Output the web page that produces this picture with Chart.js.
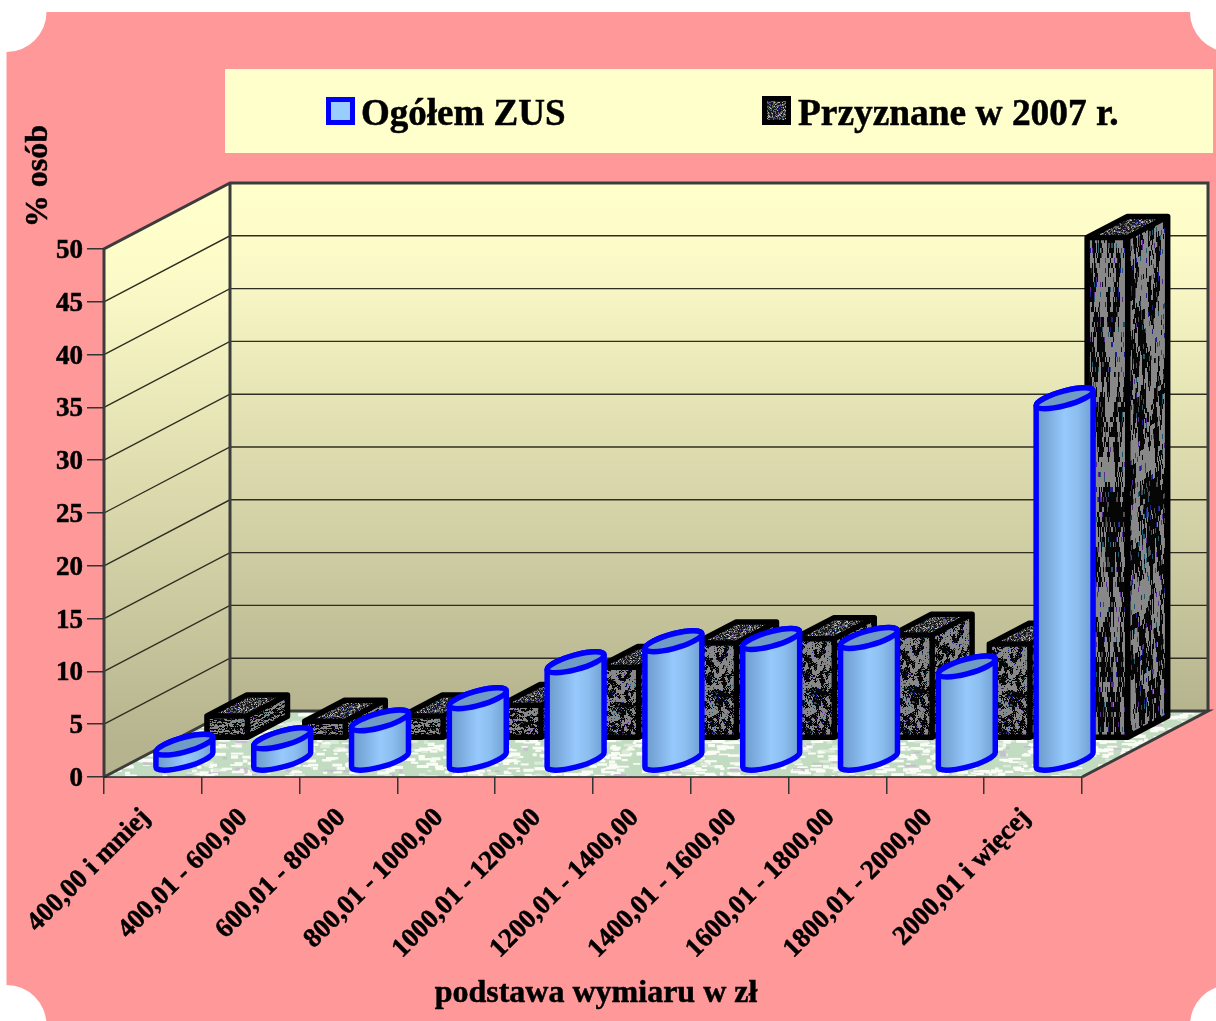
<!DOCTYPE html>
<html lang="pl">
<head>
<meta charset="utf-8">
<style>html,body{margin:0;padding:0;background:#fff}canvas{display:block}</style>
<script src="https://cdn.jsdelivr.net/npm/chart.js@4/dist/chart.umd.js"></script>
</head>
<body>
<canvas id="c" width="1216" height="1021" style="width:1216px;height:1021px"></canvas>
<script>
const categories = ['400,00 i mniej','400,01 - 600,00','600,01 - 800,00','800,01 - 1000,00','1000,01 - 1200,00','1200,01 - 1400,00','1400,01 - 1600,00','1600,01 - 1800,00','1800,01 - 2000,00','2000,01 i więcej'];
const ogolemZus = [1.5, 2.1, 3.8, 5.9, 9.3, 11.3, 11.5, 11.6, 8.9, 34.3];
const przyznane2007 = [2.1, 1.6, 2.1, 3.1, 6.7, 9.0, 9.4, 9.75, 8.9, 47.4];
const seriesNames = ['Ogółem ZUS', 'Przyznane w 2007 r.'];
const yTitleText = '% osób';
const xTitleText = 'podstawa wymiaru w zł';

const FONT = '"Liberation Serif", "Times New Roman", serif';
const DEPTH = {x: 126, y: -66};
const BAR_T = 0.59, CYL_T = 0.25, BAR_D = 0.317;

function hash(x, y) { const s = Math.sin(x * 12.9898 + y * 78.233) * 43758.5453; return s - Math.floor(s); }
function smooth(x, y, cell) {
  const fx = x / cell, fy = y / cell, ix = Math.floor(fx), iy = Math.floor(fy), tx = fx - ix, ty = fy - iy;
  const a = hash(ix, iy), b = hash(ix + 1, iy), c = hash(ix, iy + 1), d = hash(ix + 1, iy + 1);
  return (a * (1 - tx) + b * tx) * (1 - ty) + (c * (1 - tx) + d * tx) * ty;
}
function makeTexture(w, h, fine) {
  const cv = document.createElement('canvas'); cv.width = w; cv.height = h;
  const g = cv.getContext('2d'), img = g.createImageData(w, h);
  for (let y = 0; y < h; y++) for (let x = 0; x < w; x++) {
    const n = hash(x + 3.1, y + 7.7), m = smooth(x, y * 0.7, 3);
    let v = fine ? (n < .5 ? 25 : n < .9 ? 105 : 190) : (m * .8 + n * .3 > .53 ? 136 : (n > .9 ? 80 : 6));
    let r = v, gg = v, b = v;
    const k = hash(x * 1.7 + 11, y * 2.3 + 5);
    if (k > .975) { r = 90; gg = 40; b = 150; } else if (k > .95) { r = 30; gg = 90; b = 110; } else if (k > .93) { r = 30; gg = 30; b = 140; }
    const i = (y * w + x) * 4; img.data[i] = r; img.data[i + 1] = gg; img.data[i + 2] = b; img.data[i + 3] = 255;
  }
  g.putImageData(img, 0, 0); return cv;
}
const boxTex = makeTexture(40, 100, false), topTex = makeTexture(70, 30, true);

function makeFloor() {
  const cv = document.createElement('canvas'); cv.width = 1216; cv.height = 90;
  const g = cv.getContext('2d'); g.fillStyle = '#c1dcc1'; g.fillRect(0, 0, 1216, 90);
  for (let i = 0; i < 3000; i++) {
    const x = hash(i, 1.3) * 1216, y = hash(i, 2.7) * 90, w = 3 + hash(i, 3.9) * 10, h = 1.5 + hash(i, 5.1) * 2, k = hash(i, 6.3);
    g.fillStyle = k > .92 ? '#c4c0cc' : k > .15 ? '#fbfcf6' : '#dcebd8';
    g.fillRect(x, y, w, h);
  }
  return cv;
}
const floorTex = makeFloor();

function face(ctx, tex, px, py, ax, ay, bx, by) {
  ctx.save(); ctx.imageSmoothingEnabled = false;
  ctx.beginPath(); ctx.moveTo(px, py); ctx.lineTo(px + ax, py + ay); ctx.lineTo(px + ax + bx, py + ay + by); ctx.lineTo(px + bx, py + by); ctx.closePath(); ctx.clip();
  ctx.transform(ax / tex.width, ay / tex.width, bx / tex.height, by / tex.height, px, py);
  ctx.drawImage(tex, 0, 0); ctx.restore();
}

class Box3D extends Chart.BarController {
  draw() {
    const ctx = this.chart.ctx, elements = this.getMeta().data;
    const ox = DEPTH.x * BAR_T, oy = DEPTH.y * BAR_T, dx = DEPTH.x * BAR_D, dy = DEPTH.y * BAR_D;
    elements.forEach(el => {
      const w = el.width, L = el.x - w / 2 + ox, R = L + w, B = el.base + oy, T = el.y + oy;
      face(ctx, boxTex, L, T, w, 0, 0, B - T);
      face(ctx, boxTex, R, T, dx, dy, 0, B - T);
      face(ctx, topTex, L, T, w, 0, dx, dy);
      ctx.save(); ctx.strokeStyle = '#000'; ctx.lineWidth = 5.5; ctx.lineJoin = 'round';
      ctx.beginPath();
      ctx.rect(L, T, w, B - T);
      ctx.moveTo(L, T); ctx.lineTo(L + dx, T + dy); ctx.lineTo(R + dx, T + dy); ctx.lineTo(R, T);
      ctx.moveTo(R + dx, T + dy); ctx.lineTo(R + dx, B + dy); ctx.lineTo(R, B);
      ctx.stroke(); ctx.restore();
    });
  }
}
Box3D.id = 'box3d'; Box3D.defaults = Chart.BarController.defaults;

class Cylinder3D extends Chart.BarController {
  draw() {
    const ctx = this.chart.ctx, elements = this.getMeta().data;
    const ox = DEPTH.x * CYL_T, oy = DEPTH.y * CYL_T, vx = DEPTH.x * BAR_D / 2, vy = DEPTH.y * BAR_D / 2;
    elements.forEach(el => {
      const ux = el.width / 2, cx = el.x + ox, by = el.base + oy, ty = el.y + oy;
      const a0 = Math.atan2(vx, ux), a1 = a0 + Math.PI;
      const ex = ux * Math.cos(a0) + vx * Math.sin(a0), ey = vy * Math.sin(a0);
      const arcAt = (yc, from, to) => { ctx.save(); ctx.transform(ux, 0, vx, vy, cx, yc); ctx.arc(0, 0, 1, from, to, false); ctx.restore(); };
      const body = () => {
        ctx.beginPath(); ctx.moveTo(cx - ex, ty - ey); ctx.lineTo(cx - ex, by - ey);
        arcAt(by, a1, a0 + 2 * Math.PI); ctx.lineTo(cx + ex, ty + ey);
        arcAt(ty, a0, a1); ctx.closePath();
      };
      const g = ctx.createLinearGradient(cx - ex, 0, cx + ex, 0);
      g.addColorStop(0, '#6a98ca'); g.addColorStop(.5, '#97c9fc'); g.addColorStop(.72, '#8dbef0'); g.addColorStop(1, '#6f9fd2');
      ctx.save(); ctx.lineJoin = 'round'; ctx.lineWidth = 5.5; ctx.strokeStyle = '#0000ff';
      body(); ctx.fillStyle = g; ctx.fill(); ctx.stroke();
      ctx.beginPath(); arcAt(ty, 0, 2 * Math.PI); ctx.closePath(); ctx.fillStyle = '#6f9bc4'; ctx.fill(); ctx.stroke();
      ctx.restore();
    });
  }
}
Cylinder3D.id = 'cylinder3d'; Cylinder3D.defaults = Chart.BarController.defaults;
Chart.register(Box3D, Cylinder3D);

const panelPlugin = {
  id: 'panel',
  beforeDraw(chart) {
    const ctx = chart.ctx, yS = chart.scales.y, xS = chart.scales.x;
    const x0 = xS.left, x1 = xS.right, y0 = yS.bottom, yTop = yS.top, W = chart.width, H = chart.height;
    ctx.save();
    ctx.fillStyle = '#fff'; ctx.fillRect(0, 0, W, H);
    ctx.fillStyle = '#ff9999';
    ctx.beginPath();
    ctx.moveTo(46.5, 12); ctx.lineTo(1190, 12);
    ctx.arc(1230, 12, 40, Math.PI, Math.PI * 0.5, true);
    ctx.lineTo(W, 989);
    ctx.arc(1230, 1025, 40, Math.PI * 1.5, Math.PI, true);
    ctx.lineTo(46, H);
    ctx.arc(6.5, 1025, 40, Math.PI * 2, Math.PI * 1.5, true);
    ctx.lineTo(6.5, 52);
    ctx.arc(6.5, 12, 40, Math.PI * 0.5, 0, true);
    ctx.closePath(); ctx.fill();
    ctx.fillStyle = '#ffffcc'; ctx.fillRect(225, 69, 988, 84);

    const dx = DEPTH.x, dy = DEPTH.y;
    let g = ctx.createLinearGradient(0, yTop + dy, 0, y0 + dy);
    g.addColorStop(0, '#ffffcc'); g.addColorStop(.12, '#fdfcc9'); g.addColorStop(1, '#b6b48e');
    ctx.fillStyle = g; ctx.fillRect(x0 + dx, yTop + dy, x1 - x0, y0 - yTop);
    g = ctx.createLinearGradient(0, yTop + dy / 2, 0, y0 + dy / 2);
    g.addColorStop(0, '#ffffcc'); g.addColorStop(.1, '#fdfcc9'); g.addColorStop(1, '#b6b48e');
    ctx.fillStyle = g; ctx.beginPath();
    ctx.moveTo(x0, yTop); ctx.lineTo(x0 + dx, yTop + dy); ctx.lineTo(x0 + dx, y0 + dy); ctx.lineTo(x0, y0); ctx.closePath(); ctx.fill();
    ctx.save(); ctx.beginPath();
    ctx.moveTo(x0, y0); ctx.lineTo(x0 + dx, y0 + dy); ctx.lineTo(x1 + dx, y0 + dy); ctx.lineTo(x1, y0); ctx.closePath(); ctx.clip();
    ctx.drawImage(floorTex, 0, y0 + dy - 5); ctx.restore();
    ctx.strokeStyle = '#2e2e22'; ctx.lineWidth = 1.4;
    yS.ticks.forEach((t, i) => {
      if (t.value === 0 || t.value === 50) return;
      const p = yS.getPixelForTick(i);
      ctx.beginPath(); ctx.moveTo(x0, p); ctx.lineTo(x0 + dx, p + dy); ctx.lineTo(x1 + dx, p + dy); ctx.stroke();
    });
    ctx.strokeStyle = '#3c3c3c'; ctx.lineWidth = 3; ctx.lineJoin = 'miter';
    ctx.beginPath();
    ctx.moveTo(x0, y0); ctx.lineTo(x0, yTop); ctx.lineTo(x0 + dx, yTop + dy); ctx.lineTo(x1 + dx, yTop + dy); ctx.lineTo(x1 + dx, y0 + dy);
    ctx.moveTo(x0 + dx, yTop + dy); ctx.lineTo(x0 + dx, y0 + dy);
    ctx.moveTo(x0, y0); ctx.lineTo(x0 + dx, y0 + dy); ctx.lineTo(x1 + dx, y0 + dy); ctx.lineTo(x1, y0);
    ctx.stroke();
    ctx.strokeStyle = '#222'; ctx.lineWidth = 1.6; ctx.beginPath(); ctx.moveTo(x0 - 1, y0); ctx.lineTo(x1, y0); ctx.stroke();
    ctx.restore();
  },
  afterDraw(chart) {
    const ctx = chart.ctx;
    ctx.save();
    ctx.fillStyle = '#0000ff'; ctx.fillRect(326, 97, 29, 28);
    ctx.fillStyle = '#99ccff'; ctx.fillRect(331, 102, 19, 18);
    ctx.fillStyle = '#000'; ctx.fillRect(762, 96, 29, 29);
    face(ctx, topTex, 767, 101, 19, 0, 0, 19);
    ctx.fillStyle = '#000'; ctx.strokeStyle = '#000'; ctx.lineWidth = 0.5;
    ctx.font = 'bold 37px ' + FONT; ctx.textBaseline = 'alphabetic'; ctx.textAlign = 'left';
    ctx.fillText(seriesNames[0], 361, 125); ctx.strokeText(seriesNames[0], 361, 125);
    ctx.font = 'bold 37.4px ' + FONT;
    ctx.fillText(seriesNames[1], 798, 125); ctx.strokeText(seriesNames[1], 798, 125);
    ctx.font = 'bold 32px ' + FONT; ctx.textAlign = 'center';
    ctx.fillText(xTitleText, 596, 1002); ctx.strokeText(xTitleText, 596, 1002);
    ctx.translate(47, 176); ctx.rotate(-Math.PI / 2);
    ctx.fillText(yTitleText, 0, 0); ctx.strokeText(yTitleText, 0, 0);
    ctx.restore();
  }
};

new Chart(document.getElementById('c'), {
  data: {
    labels: categories,
    datasets: [
      {type: 'cylinder3d', label: seriesNames[0], data: ogolemZus, clip: false, grouped: false, categoryPercentage: 1, barPercentage: 0.415, backgroundColor: '#99ccff', borderColor: '#0000ff'},
      {type: 'box3d', label: seriesNames[1], data: przyznane2007, clip: false, grouped: false, categoryPercentage: 1, barPercentage: 0.415, backgroundColor: '#555555', borderColor: '#000000'}
    ]
  },
  plugins: [panelPlugin],
  options: {
    responsive: false, animation: false, devicePixelRatio: 1,
    layout: {padding: {left: 0, right: 134, top: 249, bottom: 0}},
    plugins: {legend: {display: false}, tooltip: {enabled: false}, title: {display: false}},
    scales: {
      x: {
        type: 'category', offset: true,
        border: {display: false},
        grid: {display: true, offset: true, drawOnChartArea: false, drawTicks: true, tickLength: 17, color: '#333', lineWidth: 1.5},
        ticks: {autoSkip: false, minRotation: 45, maxRotation: 45, padding: 8, labelOffset: -7, textStrokeColor: '#000', textStrokeWidth: 0.5, color: '#000', font: {family: FONT, weight: 'bold', size: 27}},
        title: {display: false},
        afterFit(s) { s.height = 244; s.paddingLeft = 0; s.paddingRight = 0; }
      },
      y: {
        type: 'linear', min: 0, max: 50,
        border: {display: false},
        grid: {display: true, drawOnChartArea: false, drawTicks: true, tickLength: 17, color: '#333', lineWidth: 1.5},
        ticks: {stepSize: 5, padding: 4, labelOffset: 2, textStrokeColor: '#000', textStrokeWidth: 0.5, color: '#000', font: {family: FONT, weight: 'bold', size: 27}},
        afterFit(s) { s.width = 104; s.paddingTop = 0; s.paddingBottom = 0; }
      }
    }
  }
});
</script>
</body>
</html>
